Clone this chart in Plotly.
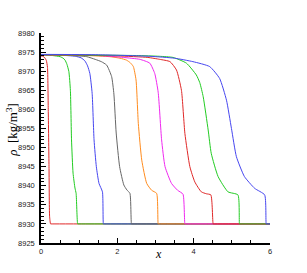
import plotly.graph_objects as go

# Density profiles at successive times (x in m, rho in kg/m^3)
colors = ["#e02828", "#22cc22", "#4646f0", "#666666", "#ff8c1e", "#f028f0", "#e02828", "#22cc22", "#4646f0"]

x1 = [0, 0.05, 0.10, 0.14, 0.17, 0.19, 0.21, 0.225, 0.25, 0.26, 6]
r1 = [8974.0, 8973.9, 8973.5, 8972.8, 8971.0, 8960.0, 8945.0, 8932.0, 8930, 8930, 8930]

x2 = [0, 0.3, 0.5, 0.58, 0.63, 0.68, 0.73, 0.77, 0.80, 0.84, 0.89, 0.92, 0.96, 0.97, 6]
r2 = [8974.3, 8974.1, 8973.8, 8973.4, 8972.9, 8971.8, 8969.9, 8965.0, 8952.0, 8943.3, 8939.4, 8938.0, 8930, 8930, 8930]

x3 = [0, 0.5, 0.9, 1.05, 1.15, 1.22, 1.28, 1.34, 1.39, 1.45, 1.52, 1.61, 1.635, 1.645, 6]
r3 = [8974.3, 8974.2, 8973.9, 8973.5, 8972.7, 8971.4, 8969.4, 8964.2, 8952.0, 8945.0, 8940.6, 8938.4, 8930, 8930, 8930]

x4 = [0, 0.8, 1.2, 1.42, 1.58, 1.72, 1.85, 1.91, 1.97, 2.06, 2.17, 2.25, 2.33, 2.37, 2.38, 6]
r4 = [8974.3, 8974.1, 8973.8, 8973.1, 8972.5, 8971.6, 8968.6, 8964.0, 8953.8, 8945.0, 8940.2, 8938.9, 8938.0, 8930, 8930, 8930]

x5 = [0, 1.2, 1.8, 2.07, 2.24, 2.34, 2.42, 2.49, 2.55, 2.64, 2.77, 2.90, 3.03, 3.07, 3.08, 6]
r5 = [8974.3, 8974.1, 8973.8, 8973.4, 8972.9, 8972.2, 8971.2, 8967.7, 8956.3, 8946.7, 8940.6, 8938.8, 8938.0, 8930, 8930, 8930]

x6 = [0, 1.5, 2.16, 2.59, 2.85, 2.98, 3.07, 3.16, 3.25, 3.42, 3.58, 3.72, 3.77, 3.78, 6]
r6 = [8974.3, 8974.1, 8973.6, 8973.1, 8972.1, 8969.4, 8964.5, 8952.0, 8945.0, 8940.6, 8938.8, 8937.8, 8930, 8930, 8930]

x7 = [0, 2.0, 2.8, 3.11, 3.38, 3.55, 3.68, 3.77, 3.90, 4.03, 4.20, 4.33, 4.45, 4.51, 4.52, 6]
r7 = [8974.3, 8974.0, 8973.6, 8973.1, 8972.5, 8970.3, 8965.0, 8953.7, 8945.0, 8941.0, 8938.4, 8937.9, 8937.6, 8930, 8930, 8930]

x8 = [0, 2.5, 3.1, 3.46, 3.81, 4.07, 4.16, 4.25, 4.38, 4.46, 4.64, 4.90, 5.16, 5.20, 5.21, 6]
r8 = [8974.3, 8974.1, 8973.9, 8973.6, 8972.1, 8969.0, 8967.0, 8963.3, 8954.6, 8948.5, 8942.4, 8938.4, 8937.6, 8930, 8930, 8930]

x9 = [0, 1.5, 2.85, 3.5, 3.98, 4.42, 4.68, 4.86, 4.99, 5.12, 5.33, 5.60, 5.86, 5.90, 5.91, 6]
r9 = [8974.4, 8974.3, 8973.9, 8973.4, 8972.5, 8971.2, 8968.1, 8962.4, 8955.0, 8947.6, 8942.4, 8939.3, 8937.6, 8930, 8930, 8930]

xs = [x1, x2, x3, x4, x5, x6, x7, x8, x9]
rs = [r1, r2, r3, r4, r5, r6, r7, r8, r9]

x_ticks = [0, 2, 4, 6]
y_ticks = [8925, 8930, 8935, 8940, 8945, 8950, 8955, 8960, 8965, 8970, 8975, 8980]

fig = go.Figure()
for xv, rv, c in zip(xs, rs, colors):
    fig.add_trace(go.Scatter(x=xv, y=rv, mode="lines",
                             line=dict(color=c, width=1, shape="spline", smoothing=0.5),
                             showlegend=False))

tickfont = dict(family="Liberation Sans, Arial, sans-serif", size=7.5, color="#222")
fig.update_xaxes(range=[0, 6], tickvals=x_ticks, ticks="inside", ticklen=5, tickwidth=1.3,
                 tickcolor="black", showline=True, linecolor="black", linewidth=1.5,
                 showgrid=False, zeroline=False, tickfont=tickfont,
                 minor=dict(ticks="inside", ticklen=3, tickwidth=1, tickcolor="black", dtick=0.5, showgrid=False))
fig.update_yaxes(range=[8925, 8980], tickvals=y_ticks, ticks="inside", ticklen=5, tickwidth=1.3,
                 tickcolor="black", showline=True, linecolor="black", linewidth=1.5,
                 showgrid=False, zeroline=False, tickfont=tickfont, ticklabelstandoff=3,
                 minor=dict(ticks="inside", ticklen=3, tickwidth=1, tickcolor="black", dtick=1, showgrid=False))

fig.update_layout(width=307, height=273, margin=dict(l=41, r=37, t=33, b=30),
                  plot_bgcolor="white", paper_bgcolor="white",
                  annotations=[
                      dict(text="<i>x</i>", xref="paper", yref="paper", x=0.511, y=-0.052,
                           xanchor="center", yanchor="middle", showarrow=False,
                           font=dict(family="Liberation Serif, Times New Roman, serif", size=12, color="black")),
                      dict(text="<i>ρ</i>  [kg/m<sup>3</sup>]", xref="paper", yref="paper", x=-0.130, y=0.54,
                           xanchor="center", yanchor="middle", showarrow=False, textangle=-90,
                           font=dict(family="Liberation Serif, Times New Roman, serif", size=13, color="black")),
                  ])

# remove the browser's default 8px body margin so the figure sits at the page corner
fig.write_html("out.html", config={"displayModeBar": False},
               post_script="document.body.style.margin='0';")
